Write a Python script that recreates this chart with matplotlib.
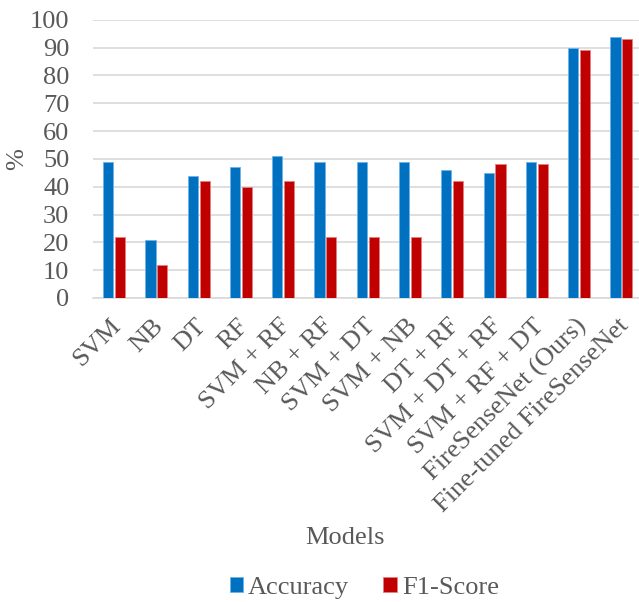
import numpy as np
import matplotlib.pyplot as plt
import matplotlib.transforms as mtransforms

# ==========================
# Dados
# ==========================
modelos = ["SVM", "NB", "DT", "RF", "SVM + RF", "NB + RF", "SVM + DT",
           "SVM + NB", "DT + RF", "SVM + DT + RF", "SVM + RF + DT",
           "FireSenseNet (Ours)", "Fine-tuned FireSenseNet"]
acuracia = [49, 21, 44, 47, 51, 49, 49, 49, 46, 45, 49, 90, 94]
f1_score = [22, 12, 42, 40, 42, 22, 22, 22, 42, 48, 48, 89, 93]
yticks = [0, 10, 20, 30, 40, 50, 60, 70, 80, 90, 100]

cinza = "#595959"
plt.rcParams['font.family'] = ['Liberation Serif', 'DejaVu Serif']

# ==========================
# Figura
# ==========================
fig = plt.figure(figsize=(6.39, 6.02), dpi=100)
ax = fig.add_axes([0.1455, 0.505, 0.860, 0.462])

x = np.arange(len(modelos))
w = 0.24
ax.bar(x - 0.14, acuracia, w, color="#0070C0", edgecolor="#6FB3E6",
       linewidth=0.6, label="Accuracy", zorder=3)
ax.bar(x + 0.14, f1_score, w, color="#C00000", edgecolor="#E68080",
       linewidth=0.6, label="F1-Score", zorder=3)

ax.set_xlim(-0.5, len(modelos) - 0.5)
ax.set_ylim(0, 100)
ax.set_yticks(yticks)
ax.yaxis.grid(True, color="#D9D9D9", linewidth=1.2, zorder=0)
ax.tick_params(length=0, labelsize=19, colors=cinza)
ax.tick_params(axis='y', pad=17)
for s in ["top", "right", "left"]:
    ax.spines[s].set_visible(False)
ax.spines["bottom"].set_color("#D9D9D9")
ax.spines["bottom"].set_linewidth(1.2)

ax.set_xticks(x)
ax.set_xticklabels(modelos, rotation=45, ha="right", va="top",
                   rotation_mode="anchor")
ax.tick_params(axis='x', pad=12)
# desloca os rótulos um pouco para a esquerda
desloc = mtransforms.ScaledTranslation(-4 / 100, 0, fig.dpi_scale_trans)
for lbl in ax.get_xticklabels():
    lbl.set_transform(lbl.get_transform() + desloc)

fig.text(0.027, 0.735, "%", rotation=90, ha="center", va="center",
         fontsize=19, color=cinza)
fig.text(0.54, 0.106, "Models", ha="center", va="center",
         fontsize=19, color=cinza)

leg = fig.legend(loc="center", bbox_to_anchor=(0.57, 0.023), ncol=2,
                 frameon=False, fontsize=19, handlelength=0.5,
                 handleheight=0.5, handletextpad=0.2, columnspacing=1.3)
for t in leg.get_texts():
    t.set_color(cinza)

plt.savefig("out.png", dpi=100)
plt.close()
